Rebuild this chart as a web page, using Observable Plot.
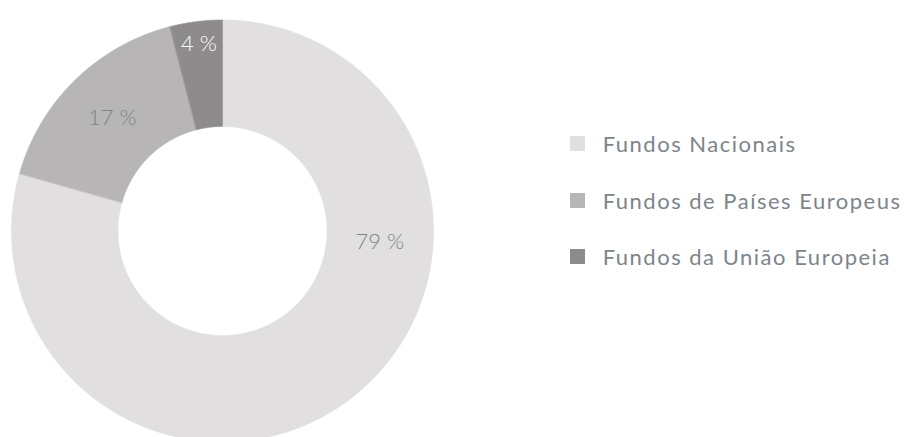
<!DOCTYPE html>
<html><head><meta charset="utf-8">
<script src="https://cdn.jsdelivr.net/npm/d3@7"></script>
<script src="https://cdn.jsdelivr.net/npm/@observablehq/plot@0.6"></script>
<style>
html,body{margin:0;padding:0;background:#fff;}
#chart{position:relative;width:911px;height:437px;overflow:hidden;}
#legend{position:absolute;left:570px;top:115.25px;width:340px;}
.lg-swatches{font-family:Lato,"Open Sans",sans-serif;font-size:22px;color:#7d848b;letter-spacing:1.5px;margin:0 !important;}
.lg-swatch{height:56.5px;padding:0 !important;}
.lg-swatch > svg{margin-right:17.7px;}
.lg-swatch-label{overflow:visible !important;}
</style></head><body><div id="chart"><div id="legend"></div></div>
<script>
const categories = ["Fundos Nacionais", "Fundos de Países Europeus", "Fundos da União Europeia"];
const shares = [79.4, 16.6, 4.0];
const colors = ["#e1dfe0", "#b8b5b6", "#8d8b8c"];

const W = 911, H = 437, cx = 222, cy = 230.5, R = 211, r0 = 104.5;
const rows = categories.map((c, i) => ({category: c, share: shares[i]}));
const arcs = d3.pie().sort(null).value(d => d.share)(rows);

// ring polygon outlines derived from the pie angles
const ringPts = [];
const step = Math.PI / 720;
for (const a of arcs) {
  const n = Math.max(2, Math.ceil((a.endAngle - a.startAngle) / step));
  const ang = k => a.startAngle + (a.endAngle - a.startAngle) * k / n;
  for (let k = 0; k <= n; k++) ringPts.push({category: a.data.category, x: R * Math.sin(ang(k)), y: -R * Math.cos(ang(k))});
  for (let k = n; k >= 0; k--) ringPts.push({category: a.data.category, x: r0 * Math.sin(ang(k)), y: -r0 * Math.cos(ang(k))});
}

// label placement rule: big slice at the 3 o'clock side, thin slice pushed outward
const labels = arcs.map(a => {
  const share = a.data.share;
  const t = share > 50 ? Math.PI / 2 + 0.07 : (a.startAngle + a.endAngle) / 2;
  const rr = share < 10 ? R * 0.895 : (R + r0) / 2;
  return {share, text: `${Math.round(share)} %`, x: rr * Math.sin(t), y: -rr * Math.cos(t)};
});

const chart = Plot.plot({
  width: W, height: H,
  marginTop: 0, marginRight: 0, marginBottom: 0, marginLeft: 0,
  x: {type: "linear", domain: [-cx, W - cx], range: [0, W], axis: null},
  y: {type: "linear", domain: [-cy, H - cy], range: [0, H], axis: null},
  color: {domain: categories, range: colors},
  style: {background: "#fff", overflow: "hidden"},
  marks: [
    Plot.line(ringPts, {x: "x", y: "y", z: "category", fill: "category", stroke: "category", strokeWidth: 0.6, curve: "linear-closed"}),
    Plot.text(labels.filter(d => d.share >= 10), {x: "x", y: "y", text: "text", fill: "#7d848b", fontSize: 22, fontFamily: "Lato, 'Open Sans', sans-serif", fontWeight: 300}),
    Plot.text(labels.filter(d => d.share < 10), {x: "x", y: "y", text: "text", fill: "#ffffff", fontSize: 22, fontFamily: "Lato, 'Open Sans', sans-serif", fontWeight: 300})
  ]
});
document.getElementById("chart").prepend(chart);

const legend = Plot.legend({
  color: {domain: categories, range: colors},
  legend: "swatches", columns: 1, swatchSize: 15, className: "lg"
});
document.getElementById("legend").append(legend);
</script></body></html>
